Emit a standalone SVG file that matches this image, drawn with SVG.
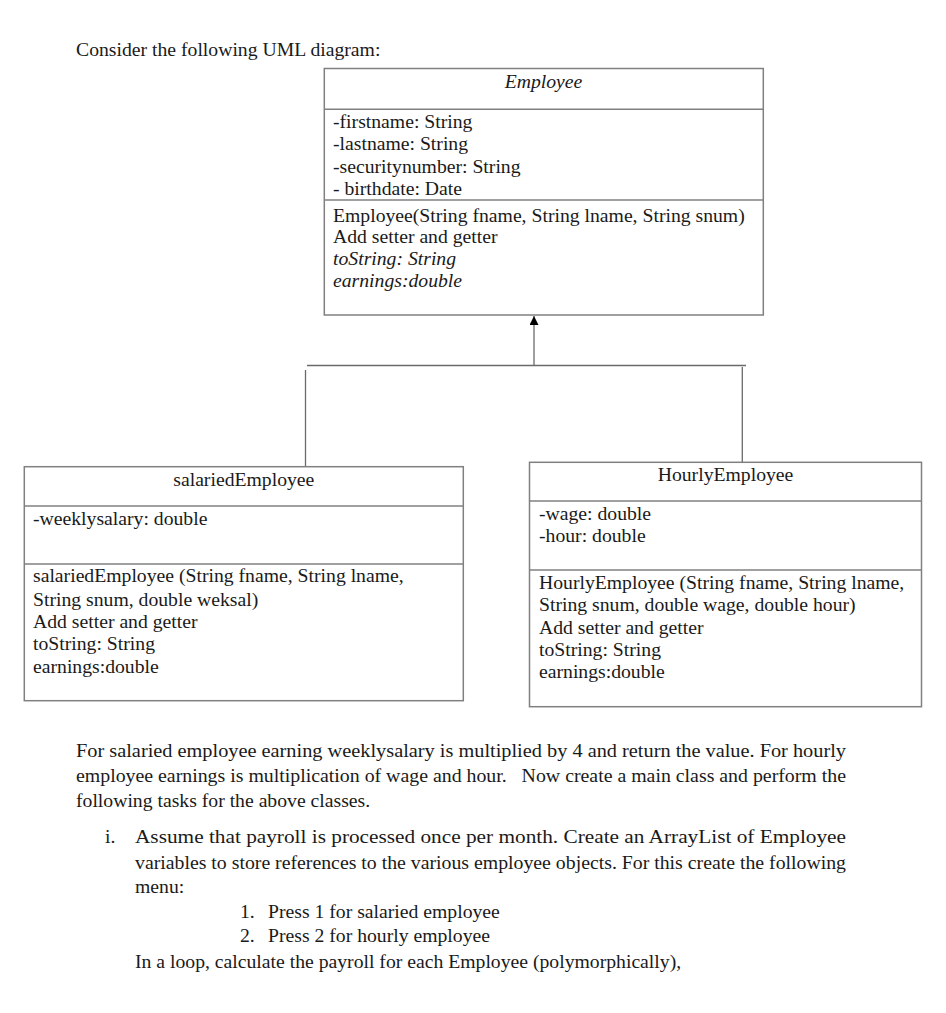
<svg xmlns="http://www.w3.org/2000/svg" width="946" height="1013" viewBox="0 0 946 1013">
<style>
text{font-family:"Liberation Serif","Times New Roman",serif;font-size:19.7px;fill:#1a1a1a}
.it{font-style:italic}
.box{fill:#fff;stroke:#808080;stroke-width:1.5}
.div{stroke:#808080;stroke-width:1.5}
.con{stroke:#6a6a6a;stroke-width:1.3;fill:none}
.mid{text-anchor:middle}
</style>
<defs>
<marker id="tri" viewBox="0 0 10 10" refX="10" refY="5" markerWidth="9" markerHeight="9" markerUnits="userSpaceOnUse" orient="auto">
<path d="M0,0 L10,5 L0,10 z" fill="#000"/>
</marker>
</defs>
<rect width="946" height="1013" fill="#fff"/>
<text x="76" y="56">Consider the following UML diagram:</text>

<g id="connectors">
<line class="con" x1="534" y1="365.5" x2="534" y2="316" marker-end="url(#tri)"/>
<line class="con" x1="307" y1="365.5" x2="746" y2="365.5" stroke="#999"/>
<line class="con" x1="305.5" y1="370" x2="305.5" y2="466"/>
<line class="con" x1="742.3" y1="367" x2="742.3" y2="462"/>
</g>

<g id="employee">
<rect class="box" x="324.3" y="68.5" width="439" height="246.5"/>
<line class="div" x1="324.3" y1="109.3" x2="763.3" y2="109.3"/>
<line class="div" x1="324.3" y1="200" x2="763.3" y2="200"/>
<text class="it mid" x="543.5" y="88">Employee</text>
<text x="333" y="128">-firstname: String</text>
<text x="333" y="150">-lastname: String</text>
<text x="333" y="172.5">-securitynumber: String</text>
<text x="333" y="194.5">- birthdate: Date</text>
<text x="333" y="221.5">Employee(String fname, String lname, String snum)</text>
<text x="333" y="243">Add setter and getter</text>
<text class="it" x="333" y="265">toString: String</text>
<text class="it" x="333" y="287">earnings:double</text>
</g>

<g id="salariedEmployee">
<rect class="box" x="24.3" y="466.7" width="439" height="234"/>
<line class="div" x1="24.3" y1="506" x2="463.3" y2="506"/>
<line class="div" x1="24.3" y1="564" x2="463.3" y2="564"/>
<text class="mid" x="243.8" y="486">salariedEmployee</text>
<text x="33" y="525">-weeklysalary: double</text>
<text x="33" y="582">salariedEmployee (String fname, String lname,</text>
<text x="33" y="605.5">String snum, double weksal)</text>
<text x="33" y="628">Add setter and getter</text>
<text x="33" y="650">toString: String</text>
<text x="33" y="672.5">earnings:double</text>
</g>

<g id="hourlyEmployee">
<rect class="box" x="529.5" y="462.3" width="392" height="244.4"/>
<line class="div" x1="529.5" y1="501" x2="921.5" y2="501"/>
<line class="div" x1="529.5" y1="570" x2="921.5" y2="570"/>
<text class="mid" x="725.5" y="481">HourlyEmployee</text>
<text x="539" y="519.5">-wage: double</text>
<text x="539" y="542">-hour: double</text>
<text x="539" y="588.5">HourlyEmployee (String fname, String lname,</text>
<text x="539" y="611">String snum, double wage, double hour)</text>
<text x="539" y="633.5">Add setter and getter</text>
<text x="539" y="655.5">toString: String</text>
<text x="539" y="678">earnings:double</text>
</g>

<text x="76" y="757" textLength="770" lengthAdjust="spacingAndGlyphs">For salaried employee earning weeklysalary is multiplied by 4 and return the value. For hourly</text>
<text x="76" y="782" textLength="770" lengthAdjust="spacingAndGlyphs" xml:space="preserve">employee earnings is multiplication of wage and hour.   Now create a main class and perform the</text>
<text x="76" y="807">following tasks for the above classes.</text>
<text x="105" y="843">i.</text>
<text x="135" y="843" textLength="711" lengthAdjust="spacingAndGlyphs">Assume that payroll is processed once per month. Create an ArrayList of Employee</text>
<text x="135" y="869" textLength="711" lengthAdjust="spacingAndGlyphs">variables to store references to the various employee objects. For this create the following</text>
<text x="135" y="893">menu:</text>
<text x="240" y="918">1.</text>
<text x="268" y="918">Press 1 for salaried employee</text>
<text x="240" y="942">2.</text>
<text x="268" y="942">Press 2 for hourly employee</text>
<text x="135" y="968">In a loop, calculate the payroll for each Employee (polymorphically),</text>
</svg>
